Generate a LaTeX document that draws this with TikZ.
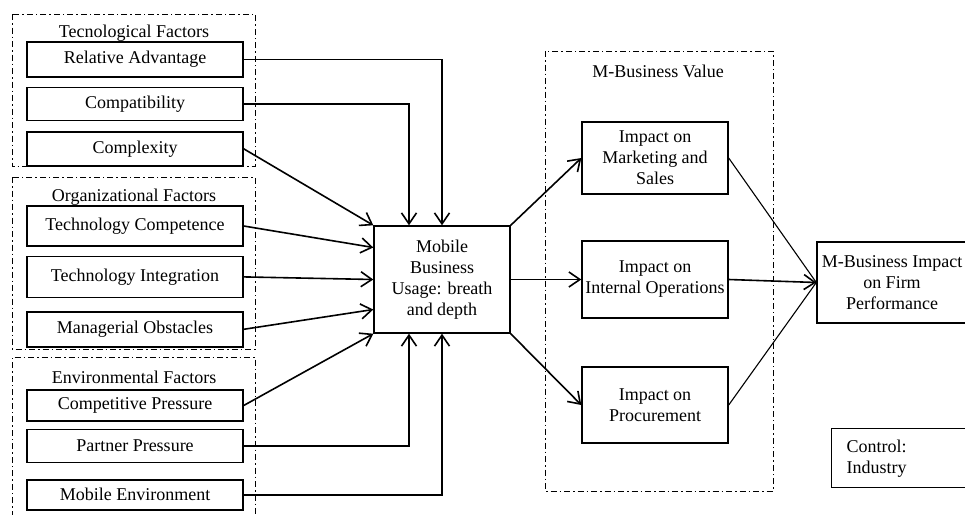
\documentclass[tikz,border=0pt]{standalone}
\usepackage{fontspec}
\setmainfont{Liberation Serif}
\usetikzlibrary{arrows.meta,positioning}

\begin{document}
\begin{tikzpicture}[x=1pt,y=-1pt,>={Straight Barb[length=11pt,width=15pt]},font=\fontsize{18}{21}\selectfont]
    \tikzstyle{factor}=[draw,line width=1.4pt,minimum width=216pt,inner sep=2pt]
    \tikzstyle{impact}=[draw,line width=1.4pt,minimum width=146pt,align=center,inner sep=2pt]
    \tikzstyle{group}=[draw,line width=1pt,dash pattern=on 6pt off 3pt on 1.5pt off 3pt]
    \tikzstyle{link}=[->,line width=1.6pt]

    \clip (0,0) rectangle (965,514);

    % factor groups
    \draw[group] (12,14) rectangle (255,166);
    \draw[group] (12,177) rectangle (255,349);
    \draw[group] (12,530) |- (255,357) -- (255,530);
    \node (techlabel) at (134,33) {Tecnological Factors};
    \node (orglabel) at (134,197) {Organizational Factors};
    \node (envlabel) at (134,377) {Environmental Factors};

    \node[factor,minimum height=35pt] (reladv) at (135,59.5) {Relative Advantage};
    \node[factor,minimum height=33pt,below=9pt of reladv] (compat) {Compatibility};
    \node[factor,minimum height=34pt,below=10pt of compat] (cplx) {Complexity};
    \node[factor,minimum height=40pt] (techcomp) at (135,226) {Technology Competence};
    \node[factor,minimum height=41pt,below=9pt of techcomp] (techint) {Technology Integration};
    \node[factor,minimum height=35pt,below=13pt of techint] (mgrobs) {Managerial Obstacles};
    \node[factor,minimum height=31pt] (comppress) at (135,405.5) {Competitive Pressure};
    \node[factor,minimum height=33pt,below=7pt of comppress] (partpress) {Partner Pressure};
    \node[factor,minimum height=30pt,below=16pt of partpress] (mobenv) {Mobile Environment};

    \node[draw,line width=1.4pt,minimum width=136pt,minimum height=107pt,align=center,inner sep=2pt] (usage) at (442,279.5) {Mobile\\Business\\Usage: breath\\and depth};

    % value group
    \draw[group] (545,51) rectangle (773,491);
    \node (valuelabel) at (658,71) {M-Business Value};
    \node[impact,minimum height=72pt] (mkt) at (655,158) {Impact on\\Marketing and\\Sales};
    \node[impact,minimum height=77pt] (intops) at (655,279.5) {Impact on\\Internal Operations};
    \node[impact,minimum height=76pt] (proc) at (655,405) {Impact on\\Procurement};

    \node[impact,minimum width=150pt,minimum height=81pt] (firm) at (892,282.5) {M-Business Impact\\on Firm\\Performance};
    \node[draw,line width=1.4pt,anchor=north west,text width=120pt,inner xsep=15pt,minimum height=59pt,align=left] (control) at (831,428) {Control:\\Industry};

    \draw[link] (reladv.east) -| (usage.north);
    \draw[link] (compat.east) -| ([xshift=-33pt]usage.north);
    \draw[link] (partpress.east) -| ([xshift=-33pt]usage.south);
    \draw[link] (mobenv.east) -| (usage.south);
    \path[link]
    (cplx.east) edge (usage.north west)
    (techcomp.east) edge ([yshift=32pt]usage.west)
    (techint.east) edge (usage.west)
    (mgrobs.east) edge ([yshift=-30pt]usage.west)
    (comppress.east) edge (usage.south west)
    (usage.north east) edge (mkt.west)
    (usage.east) edge (intops.west)
    (usage.south east) edge (proc.west)
    (intops.east) edge (firm.west);
    \draw[line width=1.1pt] (mkt.east) -- (firm.west) (proc.east) -- (firm.west);
\end{tikzpicture}
\end{document}
